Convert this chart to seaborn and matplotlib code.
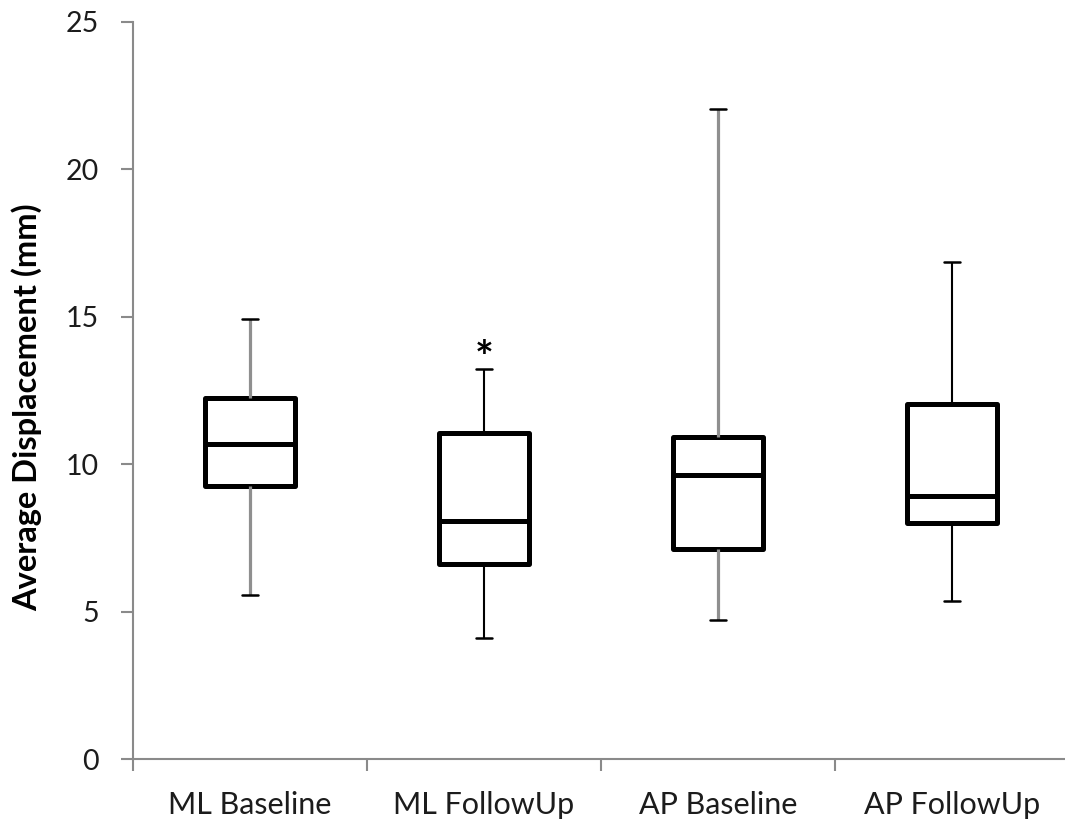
import numpy as np
import pandas as pd
import matplotlib
matplotlib.use("Agg")
import matplotlib.pyplot as plt
import seaborn as sns

# Five-number summaries (mm)
CATEGORIES = ['ML Baseline', 'ML FollowUp', 'AP Baseline', 'AP FollowUp']
WHISKER_LOW = [5.55, 4.12, 4.71, 5.36]
Q1 = [9.25, 6.60, 7.14, 8.02]
MEDIAN = [10.69, 8.08, 9.65, 8.93]
Q3 = [12.24, 11.07, 10.93, 12.05]
WHISKER_HIGH = [14.91, 13.22, 22.06, 16.86]

# significance marker
SIG_CATEGORY = 'ML FollowUp'
SIG_VALUE = 14.0

Y_TICKS = [0, 5, 10, 15, 20, 25]

# long format: five points per group reproduce the quartiles exactly
rows = []
for cat, lo, a, m, b, hi in zip(CATEGORIES, WHISKER_LOW, Q1, MEDIAN, Q3, WHISKER_HIGH):
    for v in (lo, a, m, b, hi):
        rows.append({'Group': cat, 'Displacement': v})
df = pd.DataFrame(rows)

sns.set_theme(style='white')
plt.rcParams['font.family'] = ['Lato', 'DejaVu Sans']

AXIS_GREY = '#8a8a8a'
TEXT_COL = '#1c1c1c'

fig = plt.figure(figsize=(10.65, 8.23), dpi=100)
ax = fig.add_axes([133 / 1065, 64 / 823, 936 / 1065, 737 / 823])

sns.boxplot(
    data=df, x='Group', y='Displacement', order=CATEGORIES,
    whis=(0, 100), width=0.385, showfliers=False,
    color='white', linecolor='black', linewidth=3.6,
    boxprops=dict(facecolor='white', edgecolor='black', linewidth=3.6, joinstyle='round'),
    medianprops=dict(color='black', linewidth=3.6),
    whiskerprops=dict(color='black', linewidth=1.5),
    capprops=dict(color='black', linewidth=1.8),
    capwidths=0.065,
    ax=ax,
)

# baseline groups have grey whiskers in the original
box_art = ax.containers[0]
for i, cat in enumerate(CATEGORIES):
    if 'Baseline' in cat:
        for w in box_art.whiskers[2 * i:2 * i + 2]:
            w.set_color('#8f8f8f')
            w.set_linewidth(2.3)

ax.annotate('*', xy=(CATEGORIES.index(SIG_CATEGORY), SIG_VALUE),
            xytext=(0, -9.5), textcoords='offset points',
            ha='center', va='center', fontsize=32, fontweight='bold', color='black')

ax.set_ylim(0, 25)
ax.set_xlim(-0.5, len(CATEGORIES) - 0.5)
ax.set_yticks(Y_TICKS)
ax.set_yticklabels([str(t) for t in Y_TICKS])
ax.set_xticks(range(len(CATEGORIES)))
ax.set_xticklabels(CATEGORIES)
ax.set_xticks(np.arange(-0.5, len(CATEGORIES)), minor=True)

for side in ['top', 'right']:
    ax.spines[side].set_visible(False)
for side in ['left', 'bottom']:
    ax.spines[side].set_color(AXIS_GREY)
    ax.spines[side].set_linewidth(1.5)

ax.tick_params(axis='y', which='major', direction='out', length=8.5, width=1.5,
               color=AXIS_GREY, labelsize=20.5, labelcolor=TEXT_COL, pad=16, left=True)
ax.tick_params(axis='x', which='major', length=0, labelsize=22, labelcolor=TEXT_COL, pad=23)
ax.tick_params(axis='x', which='minor', direction='out', length=8.5, width=1.5,
               color=AXIS_GREY, bottom=True)

ax.set_xlabel('')
ax.set_ylabel('Average Displacement (mm)', fontsize=23.5, fontweight='bold', color='black')
ax.yaxis.set_label_coords(-0.097, 0.478)

fig.savefig('out.png', dpi=100)
